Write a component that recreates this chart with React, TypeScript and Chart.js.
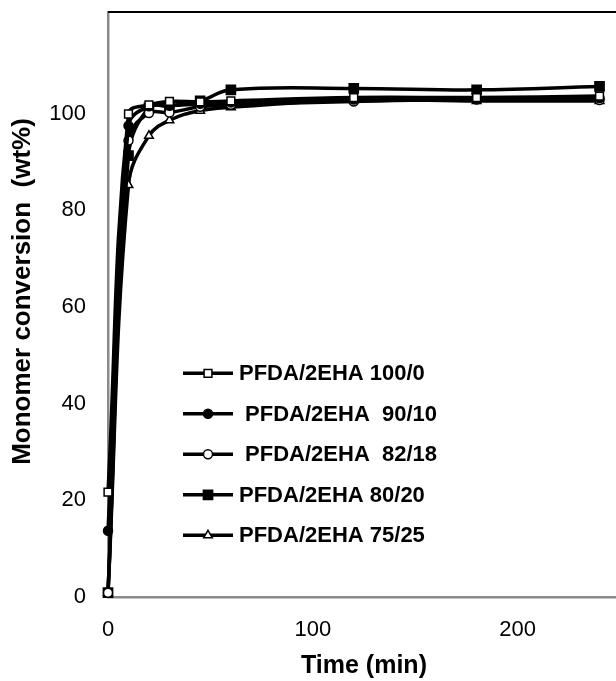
import React, { useEffect, useRef } from "react";
import { Chart, registerables } from "chart.js";

Chart.register(...registerables);

// Sampling times (min)
const times = [0, 10, 20, 30, 45, 60, 120, 180, 240];

// Monomer conversion (wt%) for each PFDA/2EHA feed ratio
const conv100_0 = [21.7, 99.9, 101.8, 102.5, 102.4, 102.6, 103.3, 103.3, 103.6];
const conv90_10 = [13.7, 97.5, 101.5, 101.6, 102.0, 102.3, 102.9, 103.1, 103.2];
const conv82_18 = [0.9, 94.4, 100.1, 100.2, 101.4, 101.8, 102.5, 102.9, 102.8];
const conv80_20 = [0.9, 91.3, 101.2, 101.6, 102.6, 104.9, 105.2, 104.9, 105.6];
const conv75_25 = [0.9, 85.2, 95.4, 98.6, 100.6, 101.3, 102.8, 102.6, 102.6];

const seriesLabels = [
  "PFDA/2EHA 100/0",
  " PFDA/2EHA  90/10",
  " PFDA/2EHA  82/18",
  "PFDA/2EHA 80/20",
  "PFDA/2EHA 75/25",
];

const xTicks = [0, 100, 200];
const yTicks = [0, 20, 40, 60, 80, 100];

const xTitle = "Time (min)";
const yTitle = "Monomer conversion  (wt%)";

const FONT = '"Liberation Sans", Arial, sans-serif';

type MarkerStyle = "rect" | "circle" | "triangle";

const markers: { style: MarkerStyle; radius: number; fill: string }[] = [
  { style: "rect", radius: 5.5, fill: "#ffffff" },
  { style: "circle", radius: 4.5, fill: "#000000" },
  { style: "circle", radius: 4.5, fill: "#ffffff" },
  { style: "rect", radius: 6.5, fill: "#000000" },
  { style: "triangle", radius: 5, fill: "#ffffff" },
];

const seriesValues = [conv100_0, conv90_10, conv82_18, conv80_20, conv75_25];

// Same marker geometry as Chart.js point elements, for the key
function drawMarker(
  ctx: CanvasRenderingContext2D,
  style: MarkerStyle,
  x: number,
  y: number,
  r: number,
  fill: string,
  lw: number
) {
  ctx.beginPath();
  if (style === "circle") {
    ctx.arc(x, y, r, 0, Math.PI * 2);
  } else if (style === "rect") {
    const s = Math.SQRT1_2 * r;
    ctx.rect(x - s, y - s, 2 * s, 2 * s);
  } else {
    let a = 0;
    ctx.moveTo(x + Math.sin(a) * r, y - Math.cos(a) * r);
    a += (2 * Math.PI) / 3;
    ctx.lineTo(x + Math.sin(a) * r, y - Math.cos(a) * r);
    a += (2 * Math.PI) / 3;
    ctx.lineTo(x + Math.sin(a) * r, y - Math.cos(a) * r);
    ctx.closePath();
  }
  ctx.fillStyle = fill;
  ctx.fill();
  ctx.lineWidth = lw;
  ctx.strokeStyle = "#000";
  ctx.stroke();
}

// Black top edge of the plot frame
const frameTop = {
  id: "frameTop",
  afterDraw(chart: any) {
    const { ctx, chartArea } = chart;
    ctx.save();
    ctx.beginPath();
    ctx.moveTo(chartArea.left, chartArea.top);
    ctx.lineTo(chartArea.right, chartArea.top);
    ctx.lineWidth = 2;
    ctx.strokeStyle = "#000";
    ctx.stroke();
    ctx.restore();
  },
};

// Vertical axis title, rotated
const yAxisTitle = {
  id: "yAxisTitle",
  afterDraw(chart: any) {
    const { ctx, chartArea } = chart;
    ctx.save();
    ctx.translate(23, (chartArea.top + chartArea.bottom) / 2 - 13);
    ctx.rotate(-Math.PI / 2);
    ctx.font = `bold 26px ${FONT}`;
    ctx.fillStyle = "#000";
    ctx.textAlign = "center";
    ctx.textBaseline = "middle";
    ctx.fillText(yTitle, 0, 0);
    ctx.restore();
  },
};

// Series key inside the plot
const seriesKey = {
  id: "seriesKey",
  afterDraw(chart: any) {
    const { ctx, chartArea } = chart;
    const x0 = chartArea.left + 75;
    const x1 = chartArea.left + 125;
    const mx = (x0 + x1) / 2;
    const rowTop = chartArea.top + 361.3;
    const gap = 40.5;
    ctx.save();
    chart.data.datasets.forEach((ds: any, i: number) => {
      const y = rowTop + i * gap;
      ctx.beginPath();
      ctx.moveTo(x0, y);
      ctx.lineTo(x1, y);
      ctx.lineWidth = ds.borderWidth;
      ctx.strokeStyle = "#000";
      ctx.stroke();
      const m = markers[i];
      drawMarker(ctx, m.style, mx, y, m.radius, m.fill, ds.pointBorderWidth);
      ctx.font = `bold 22px ${FONT}`;
      ctx.fillStyle = "#000";
      ctx.textBaseline = "middle";
      ctx.textAlign = "left";
      ctx.fillText(ds.label, x1 + 6, y + 1);
    });
    ctx.restore();
  },
};

export default function App() {
  const canvasRef = useRef<HTMLCanvasElement | null>(null);

  useEffect(() => {
    if (!canvasRef.current) return;
    const datasets = seriesValues.map((vals, i) => ({
      label: seriesLabels[i],
      data: times.map((t, j) => ({ x: t, y: vals[j] })),
      borderColor: "#000",
      borderWidth: 3.5,
      tension: 0.4,
      pointStyle: markers[i].style,
      pointRadius: markers[i].radius,
      pointBackgroundColor: markers[i].fill,
      pointBorderColor: "#000",
      pointBorderWidth: 1.5,
      clip: false as any,
    }));

    const chart = new Chart(canvasRef.current, {
      type: "line",
      data: { datasets },
      options: {
        animation: false,
        responsive: true,
        maintainAspectRatio: false,
        layout: { padding: { top: 12, right: 0, bottom: 0, left: 0 } },
        plugins: {
          legend: { display: false },
          tooltip: { enabled: false },
        },
        scales: {
          x: {
            type: "linear",
            min: 0,
            max: 250,
            afterBuildTicks: (s: any) => {
              s.ticks = xTicks.map((v) => ({ value: v }));
            },
            afterFit: (s: any) => {
              s.height = 84;
              s.paddingLeft = 0;
              s.paddingRight = 0;
            },
            grid: { display: false, drawTicks: false },
            border: { display: true, color: "#8a8a8a", width: 2.5 },
            ticks: {
              color: "#000",
              font: { family: FONT, size: 22 },
              padding: 20,
              maxRotation: 0,
            },
            title: {
              display: true,
              text: xTitle,
              color: "#000",
              font: { family: FONT, size: 25, weight: "bold" },
              padding: { top: 0, bottom: 0 },
            },
          },
          y: {
            type: "linear",
            min: 0,
            max: 121,
            afterBuildTicks: (s: any) => {
              s.ticks = yTicks.map((v) => ({ value: v }));
            },
            afterFit: (s: any) => {
              s.width = 108;
              s.paddingTop = 0;
              s.paddingBottom = 0;
            },
            grid: { display: false, drawTicks: false },
            border: { display: true, color: "#8a8a8a", width: 2.5 },
            ticks: {
              color: "#000",
              font: { family: FONT, size: 22 },
              padding: 22,
            },
          },
        },
      },
      plugins: [frameTop, yAxisTitle, seriesKey],
    });
    return () => chart.destroy();
  }, []);

  return (
    <div
      style={{
        position: "absolute",
        left: 0,
        top: 0,
        width: 616,
        height: 681,
        overflow: "hidden",
        background: "#fff",
      }}
    >
      <div style={{ position: "relative", width: 628, height: 681 }}>
        <canvas ref={canvasRef} />
      </div>
    </div>
  );
}
